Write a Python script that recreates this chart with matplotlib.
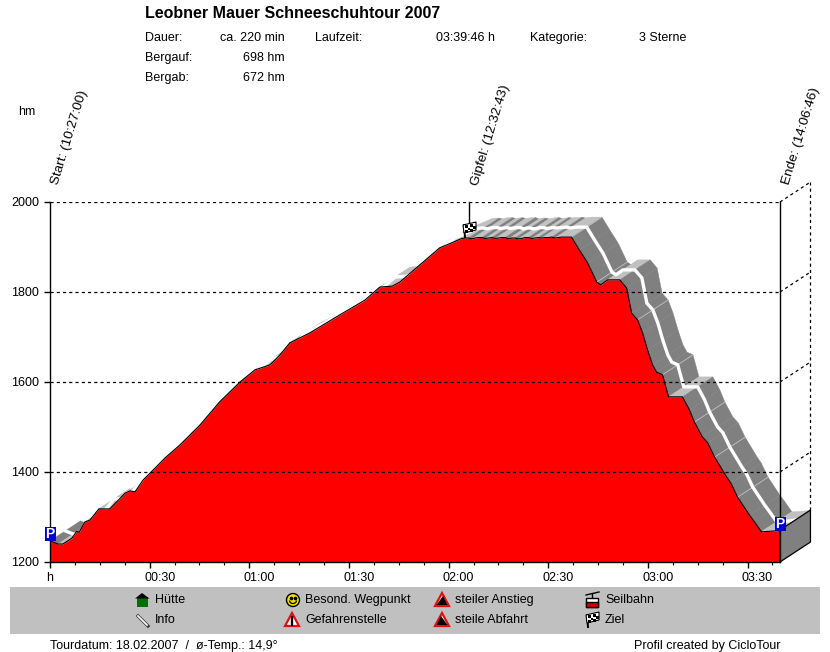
import matplotlib
matplotlib.use('Agg')
import matplotlib.pyplot as plt
from matplotlib.patches import Polygon, Rectangle, Circle, Arc
from matplotlib.transforms import ScaledTranslation

plt.rcParams['font.family'] = ['Liberation Sans', 'DejaVu Sans']

# profile: minutes since start, elevation in hm
climb_min = [0, 2.4, 3.9, 6.6, 8, 8.8, 10.5, 12, 14.7, 18, 22.6, 24.1, 25.6, 28, 31, 34.6, 39.1, 42.1, 45.1,
             51.1, 57.2, 61.7, 66.2, 69.2, 72.2, 78.2, 87.2, 94.8, 99.3, 103, 105.3, 111.3, 117.3, 124]
climb_hm = [1247, 1240, 1240, 1253, 1268, 1266, 1289, 1293, 1318, 1318, 1353, 1358, 1356, 1382, 1404, 1431, 1460, 1482, 1504,
            1556, 1600, 1627, 1638, 1660, 1687, 1709, 1749, 1782, 1811, 1813, 1822, 1860, 1898, 1919]
top_min = [125, 126, 127, 128, 129, 130, 131, 132, 133, 134, 135, 136, 137, 138, 139, 140, 141, 142,
           143, 144, 145, 146, 147, 148, 149, 150, 151, 152, 153, 154, 155, 156, 157]
top_hm = [1920, 1920, 1918, 1920, 1921, 1921, 1919, 1920, 1921, 1919, 1920, 1921, 1921, 1918, 1920, 1920, 1918,
          1919, 1921, 1921, 1919, 1920, 1921, 1920, 1921, 1921, 1922, 1920, 1921, 1922, 1922, 1922, 1922]
down_min = [159.4, 161.9, 164.6, 165.8, 167.9, 171.5, 173.6, 175.1, 176.9, 178.4, 179.9, 181.4, 182.6, 184.4,
            186.2, 190.4, 192.5, 194, 196.4, 198, 200.1, 203.7, 205, 207, 210.6, 212, 214.2, 218.1, 219.77]
down_hm = [1893, 1864, 1822, 1816, 1827, 1827, 1809, 1753, 1738, 1709, 1671, 1638, 1622, 1616,
           1567, 1567, 1538, 1511, 1478, 1465, 1433, 1389, 1375, 1344, 1304, 1290, 1267, 1269, 1271]
minutes = climb_min + top_min + down_min
hm = climb_hm + top_hm + down_hm

seam_min = [157, 164.6, 176.9, 184.4, 194, 200.1, 207, 214.2]
seam_hm = [1922, 1822, 1738, 1616, 1511, 1433, 1344, 1267]

time_ticks = [0, 30, 60, 90, 120, 150, 180, 210]
time_labels = ['h', '00:30', '01:00', '01:30', '02:00', '02:30', '03:00', '03:30']
hm_ticks = [1200, 1400, 1600, 1800, 2000]
end_min = 219.77
# depth of the ribbon, as time and height
depth_min = 9.17
depth_hm = 44.4

info_left = [('Dauer:', 38), ('Bergauf:', 58), ('Bergab:', 78)]
info_right = [('ca. 220 min', 38), ('698 hm', 58), ('672 hm', 78)]
legend_items = [('Hütte', 155, 600), ('Info', 155, 620), ('Besond. Wegpunkt', 305, 600), ('Gefahrenstelle', 305, 620),
                ('steiler Anstieg', 455, 600), ('steile Abfahrt', 455, 620), ('Seilbahn', 605, 600), ('Ziel', 605, 620)]
marks = [('Start: (10:27:00)', 55, 184), ('Gipfel: (12:32:43)', 475, 185), ('Ende: (14:06:46)', 786, 184)]

DARK = '#808080'
LIGHT = '#c0c0c0'
FS = 9
DASH = (0, (2.5, 2.5))

fig = plt.figure(figsize=(8.3, 6.52), dpi=100, facecolor='white')
ax = fig.add_axes([50 / 830, 1 - 562 / 652, 730 / 830, 360 / 652])
ax.set_xlim(0, end_min)
ax.set_ylim(1200, 2000)
ax.patch.set_visible(False)

# ribbon behind the profile, one quad per segment
for i in range(len(minutes) - 1):
    t0, t1 = minutes[i], minutes[i + 1]
    e0, e1 = hm[i], hm[i + 1]
    col = DARK if e1 < e0 else LIGHT
    ax.add_patch(Polygon([(t0, e0), (t1, e1), (t1 + depth_min, e1 + depth_hm), (t0 + depth_min, e0 + depth_hm)],
                         closed=True, fc=col, ec=col, lw=0.3, zorder=2, clip_on=False))
for t, e in zip(seam_min, seam_hm):
    ax.plot([t, t + depth_min], [e, e + depth_hm], color=LIGHT, lw=0.6, zorder=3, clip_on=False)
ax.plot([t + depth_min / 2 for t in minutes], [e + depth_hm / 2 for e in hm], color='white', lw=2.4,
        zorder=4, clip_on=False)

ax.fill_between(minutes, hm, 1200, color='#ff0000', lw=0, zorder=5)
ax.plot(minutes, hm, color='black', lw=0.8, zorder=6)

# grid with the dashed depth lines
for y in hm_ticks[1:]:
    ax.plot([0, end_min], [y, y], color='black', lw=0.9, ls=DASH, zorder=7)
    ax.plot([end_min, end_min + depth_min], [y, y + depth_hm], color='black', lw=0.9, ls=DASH,
            zorder=1, clip_on=False)
ax.plot([end_min + depth_min] * 2, [hm[-1] + depth_hm, 2000 + depth_hm], color='black', lw=0.9, ls=DASH,
        zorder=1, clip_on=False)

# block at the end of the profile
ax.add_patch(Polygon([(end_min, 1200), (end_min + depth_min, 1200 + depth_hm),
                      (end_min + depth_min, hm[-1] + depth_hm), (end_min, hm[-1])],
                     closed=True, fc=DARK, ec='black', lw=0.9, zorder=8, clip_on=False))

for s in ['top']:
    ax.spines[s].set_visible(False)
for s in ['left', 'right', 'bottom']:
    ax.spines[s].set_linewidth(1)
    ax.spines[s].set_zorder(9)
ax.set_xticks(time_ticks)
ax.set_xticklabels(time_labels, fontsize=FS)
ax.set_xticks([7.5 * k for k in range(30)], minor=True)
ax.set_yticks(hm_ticks)
ax.tick_params(axis='x', which='major', length=4, width=1, pad=3)
ax.tick_params(axis='x', which='minor', length=2, width=0.8)
ax.tick_params(axis='y', length=4, width=1, pad=4, labelsize=FS)
for lab, txt in zip(ax.get_xticklabels(), time_labels):
    if txt != 'h':
        lab.set_transform(lab.get_transform() + ScaledTranslation(10 / 100, 0, fig.dpi_scale_trans))

# everything else sits on a pixel sized overlay
deco = fig.add_axes([0, 0, 1, 1])
deco.set_xlim(0, 830)
deco.set_ylim(652, 0)
deco.axis('off')
deco.patch.set_visible(False)


def label(x, y, s, **kw):
    kw.setdefault('fontsize', FS)
    kw.setdefault('va', 'center')
    deco.text(x, y, s, color='black', **kw)


def flag(x, y):
    deco.plot([x - 5, x - 4], [y - 4, y + 8], color='black', lw=1.4, zorder=12)
    deco.add_patch(Polygon([(x - 6, y - 4), (x + 7, y - 7), (x + 7, y + 1), (x - 5, y + 4)], closed=True,
                           fc='white', ec='black', lw=0.8, zorder=12))
    for dx, dy in [(-4, -4), (1, -5), (-1.5, -1.5), (4, -3), (-4, 1), (1, 0)]:
        deco.add_patch(Rectangle((x + dx, y + dy), 2.5, 2.5, fc='black', ec='none', zorder=13))


def parking(x, y):
    deco.add_patch(Rectangle((x - 5.5, y - 7), 11, 14, fc='#0000c8', ec='none', zorder=12))
    deco.text(x, y + 0.3, 'P', color='white', fontsize=10, fontweight='bold', ha='center', va='center', zorder=13)


def warn(x, y, kind):
    deco.add_patch(Polygon([(x, y - 7), (x + 7, y + 6), (x - 7, y + 6)], closed=True, fc='white',
                           ec='#e01010', lw=1.6, zorder=12))
    if kind == 'danger':
        deco.plot([x, x], [y - 3, y + 2], color='black', lw=1.6, zorder=13)
        deco.plot([x, x], [y + 3, y + 4.5], color='black', lw=1.6, zorder=13)
    elif kind == 'up':
        deco.add_patch(Polygon([(x + 1, y - 4), (x + 5.5, y + 5), (x - 5.5, y + 5)], closed=True, fc='black', ec='none', zorder=13))
    else:
        deco.add_patch(Polygon([(x - 1, y - 4), (x + 5.5, y + 5), (x - 5.5, y + 5)], closed=True, fc='black', ec='none', zorder=13))


label(145, 13, 'Leobner Mauer Schneeschuhtour 2007', fontsize=11.5, fontweight='bold')
for s, y in info_left:
    label(145, y, s)
for s, y in info_right:
    label(285, y, s, ha='right')
label(315, 38, 'Laufzeit:')
label(495, 38, '03:39:46 h', ha='right')
label(530, 38, 'Kategorie:')
label(639, 38, '3 Sterne')
label(18, 112, 'hm')
for s, x, y in marks:
    label(x, y, s, rotation=73, rotation_mode='anchor', ha='left', fontsize=9.7)

deco.plot([469, 469], [202, 224], color='black', lw=1, zorder=11)
flag(469, 229)
parking(50, 534)
parking(780, 524)

# legend band
deco.add_patch(Rectangle((10, 587), 810, 47, fc=LIGHT, ec='none', zorder=10))
for s, x, y in legend_items:
    deco.text(x, y, s, fontsize=FS, va='center', color='black', zorder=12)
deco.add_patch(Rectangle((136.5, 598), 11.5, 9, fc='#007000', ec='none', zorder=12))
deco.add_patch(Polygon([(135, 598.5), (142, 593), (149.5, 598.5)], closed=True, fc='black', ec='none', zorder=12))
deco.plot([138, 148], [616, 626], color='#404040', lw=2.4, zorder=12)
deco.plot([138, 147], [616, 625], color='white', lw=1.2, zorder=13)
deco.add_patch(Circle((293, 600), 6.5, fc='#f0e000', ec='black', lw=1, zorder=12))
deco.plot([291, 295], [598, 598], ls='none', marker='o', ms=1.6, color='black', zorder=13)
deco.add_patch(Arc((293, 600.5), 7, 6, theta1=0, theta2=180, color='black', lw=0.9, zorder=13))
warn(292, 620, 'danger')
warn(442, 600, 'up')
warn(442, 620, 'down')
deco.plot([586, 599], [595, 592], color='black', lw=1, zorder=12)
deco.plot([592, 592], [594, 598], color='black', lw=1, zorder=12)
deco.add_patch(Rectangle((586, 598), 12, 9, fc='white', ec='black', lw=1, zorder=12))
deco.add_patch(Rectangle((586, 602), 12, 5, fc='#d00000', ec='black', lw=1, zorder=13))
flag(592, 619)

label(50, 646, 'Tourdatum: 18.02.2007  /  ø-Temp.: 14,9°')
label(780, 646, 'Profil created by CicloTour', ha='right')

fig.savefig('out.png', dpi=100)
